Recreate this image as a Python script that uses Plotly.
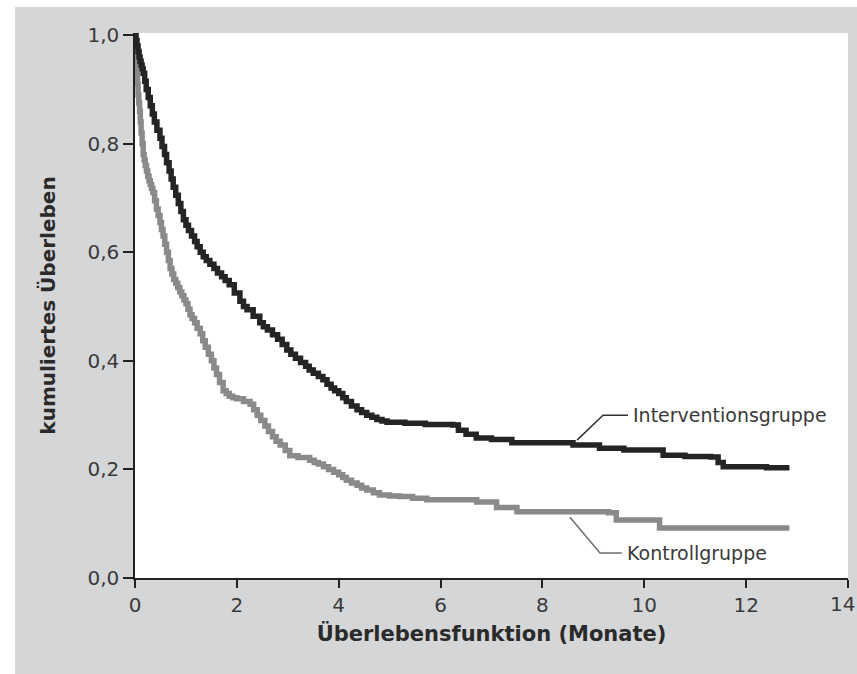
import plotly.graph_objects as go

# Kaplan-Meier style step data
t_int = [0, 0.02, 0.04, 0.06, 0.08, 0.1, 0.12, 0.14, 0.16, 0.19,
         0.22, 0.26, 0.3, 0.34, 0.38, 0.43, 0.49, 0.53, 0.58, 0.62,
         0.67, 0.71, 0.75, 0.8, 0.85, 0.9, 0.95, 1.0, 1.05, 1.11,
         1.17, 1.22, 1.28, 1.34, 1.4, 1.47, 1.55, 1.62, 1.7, 1.77,
         1.85, 1.95, 2.06, 2.13, 2.2, 2.32, 2.45, 2.52, 2.6, 2.7,
         2.8, 2.89, 2.98, 3.06, 3.15, 3.25, 3.35, 3.42, 3.5, 3.6,
         3.69, 3.77, 3.85, 3.92, 4.0, 4.08, 4.15, 4.25, 4.36, 4.45,
         4.55, 4.65, 4.75, 4.85, 4.95, 5.3, 5.7, 6.24, 6.35, 6.5,
         6.7, 7.0, 7.4, 8.15, 8.6, 9.12, 9.6, 10.37, 10.8, 11.3,
         11.45, 11.55, 12.0, 12.4, 12.85]
s_int = [1.0, 0.99, 0.98, 0.97, 0.96, 0.952, 0.945, 0.938, 0.93, 0.915,
         0.9, 0.885, 0.87, 0.855, 0.84, 0.825, 0.81, 0.795, 0.78, 0.765,
         0.75, 0.735, 0.72, 0.705, 0.69, 0.675, 0.66, 0.65, 0.64, 0.63,
         0.62, 0.61, 0.6, 0.592, 0.585, 0.578, 0.57, 0.562, 0.555, 0.548,
         0.54, 0.525, 0.51, 0.5, 0.494, 0.482, 0.47, 0.463, 0.457, 0.448,
         0.44, 0.43, 0.42, 0.412, 0.405, 0.397, 0.39, 0.383, 0.377, 0.371,
         0.365, 0.357, 0.35, 0.345, 0.34, 0.332, 0.325, 0.317, 0.31, 0.305,
         0.3, 0.296, 0.292, 0.289, 0.287, 0.285, 0.283, 0.282, 0.272, 0.265,
         0.258, 0.255, 0.249, 0.249, 0.245, 0.239, 0.236, 0.226, 0.224, 0.223,
         0.213, 0.205, 0.205, 0.203, 0.203]

t_ctl = [0, 0.01, 0.02, 0.03, 0.04, 0.05, 0.06, 0.075, 0.09, 0.105,
         0.12, 0.14, 0.16, 0.18, 0.2, 0.225, 0.25, 0.275, 0.3, 0.325,
         0.35, 0.385, 0.42, 0.455, 0.49, 0.52, 0.55, 0.585, 0.62, 0.655,
         0.69, 0.725, 0.76, 0.8, 0.84, 0.88, 0.92, 0.96, 1.0, 1.04,
         1.08, 1.12, 1.17, 1.22, 1.28, 1.33, 1.38, 1.44, 1.5, 1.55,
         1.6, 1.66, 1.73, 1.79, 1.85, 1.92, 2.0, 2.13, 2.26, 2.33,
         2.4, 2.47, 2.55, 2.62, 2.7, 2.77, 2.85, 2.95, 3.04, 3.2,
         3.43, 3.52, 3.6, 3.7, 3.8, 3.9, 4.0, 4.08, 4.15, 4.25,
         4.36, 4.45, 4.55, 4.68, 4.8, 5.0, 5.2, 5.45, 5.73, 6.2,
         6.71, 7.1, 7.5, 8.2, 9.3, 9.45, 10.1, 10.3, 11.0, 12.0,
         12.85]
s_ctl = [1.0, 0.98, 0.96, 0.945, 0.93, 0.91, 0.89, 0.875, 0.86, 0.84,
         0.82, 0.8, 0.78, 0.77, 0.76, 0.75, 0.74, 0.732, 0.725, 0.718,
         0.71, 0.695, 0.68, 0.668, 0.655, 0.642, 0.63, 0.615, 0.6, 0.585,
         0.57, 0.56, 0.55, 0.543, 0.535, 0.527, 0.52, 0.512, 0.505, 0.495,
         0.485, 0.478, 0.47, 0.46, 0.45, 0.437, 0.425, 0.412, 0.4, 0.387,
         0.375, 0.36, 0.345, 0.34, 0.335, 0.332, 0.33, 0.325, 0.32, 0.31,
         0.3, 0.29, 0.28, 0.27, 0.26, 0.252, 0.245, 0.235, 0.225, 0.222,
         0.217, 0.213, 0.21, 0.205, 0.2, 0.195, 0.19, 0.185, 0.18, 0.175,
         0.171, 0.166, 0.162, 0.157, 0.153, 0.151, 0.15, 0.147, 0.144, 0.144,
         0.14, 0.13, 0.122, 0.122, 0.12, 0.107, 0.107, 0.092, 0.092, 0.092,
         0.092]

x_ticks = [0, 2, 4, 6, 8, 10, 12, 14]
x_tick_labels = ["0", "2", "4", "6", "8", "10", "12", "14"]
y_ticks = [0.0, 0.2, 0.4, 0.6, 0.8, 1.0]
y_tick_labels = ["0,0", "0,2", "0,4", "0,6", "0,8", "1,0"]

label_int = "Interventionsgruppe"
label_ctl = "Kontrollgruppe"
leader_int_x = [8.68, 9.19, 9.68]
leader_int_y = [0.254, 0.30, 0.30]
leader_ctl_x = [8.54, 9.13, 9.56]
leader_ctl_y = [0.112, 0.046, 0.046]

FONT = "DejaVu Sans, Open Sans, sans-serif"
BG = "#d5d6d8"
TXT = "#3a3a3a"

fig = go.Figure()
fig.add_trace(go.Scatter(x=t_ctl, y=s_ctl, mode="lines", line_shape="hv",
                         line=dict(color="#8a8a8a", width=5.5), showlegend=False))
fig.add_trace(go.Scatter(x=t_int, y=s_int, mode="lines", line_shape="hv",
                         line=dict(color="#242424", width=5.5), showlegend=False))
fig.add_trace(go.Scatter(x=leader_int_x, y=leader_int_y, mode="lines",
                         line=dict(color="#333333", width=1.5), showlegend=False))
fig.add_trace(go.Scatter(x=leader_ctl_x, y=leader_ctl_y, mode="lines",
                         line=dict(color="#6e6e6e", width=1.5), showlegend=False))

fig.add_annotation(x=leader_int_x[-1], y=leader_int_y[-1], text=label_int,
                   showarrow=False, xanchor="left", yanchor="middle", xshift=3,
                   font=dict(family=FONT, size=19, color=TXT))
fig.add_annotation(x=leader_ctl_x[-1], y=leader_ctl_y[-1], text=label_ctl,
                   showarrow=False, xanchor="left", yanchor="middle", xshift=3,
                   font=dict(family=FONT, size=19, color=TXT))

# last x tick label kept fully inside the picture (right-aligned at the edge)
fig.add_annotation(x=x_ticks[-1], y=0, xref="x", yref="y", text=x_tick_labels[-1],
                   showarrow=False, xanchor="right", yanchor="top", xshift=9, yshift=-12,
                   font=dict(family=FONT, size=20, color=TXT))

# white outer strips (top and left)
fig.add_shape(type="rect", xref="paper", yref="paper", x0=-0.3, x1=1.1,
              y0=(578 - 7) / 545, y1=1.2, fillcolor="white", line_width=0, layer="below")
fig.add_shape(type="rect", xref="paper", yref="paper", x0=-0.3, x1=(15 - 135) / 713,
              y0=-0.3, y1=1.2, fillcolor="white", line_width=0, layer="below")

fig.update_layout(
    width=857, height=674,
    margin=dict(l=135, r=9, t=33, b=96, autoexpand=False),
    paper_bgcolor=BG, plot_bgcolor="white",
    font=dict(family=FONT, color=TXT),
)
fig.update_xaxes(range=[0, 14], tickvals=x_ticks, ticktext=x_tick_labels[:-1] + [""],
                 showgrid=False, zeroline=False, showline=True, linecolor="#222222",
                 linewidth=1.5, ticks="outside", ticklen=8, tickcolor="#222222",
                 tickwidth=1.5, ticklabeloverflow="allow", automargin=False,
                 tickfont=dict(family=FONT, size=20, color=TXT),
                 title=dict(text="<b>Überlebensfunktion (Monate)</b>",
                            font=dict(family=FONT, size=21, color="#2a2a2a"), standoff=11))
fig.update_yaxes(range=[0, 1.004], tickvals=y_ticks, ticktext=y_tick_labels,
                 showgrid=False, zeroline=False, showline=True, linecolor="#222222",
                 linewidth=1.5, ticks="outside", ticklen=10, tickcolor="#222222",
                 tickwidth=1.5, ticklabeloverflow="allow", automargin=False,
                 tickfont=dict(family=FONT, size=20, color=TXT),
                 title=dict(text="<b>kumuliertes Überleben</b>",
                            font=dict(family=FONT, size=20, color="#2a2a2a"), standoff=26))

fig.write_html("out.html")
